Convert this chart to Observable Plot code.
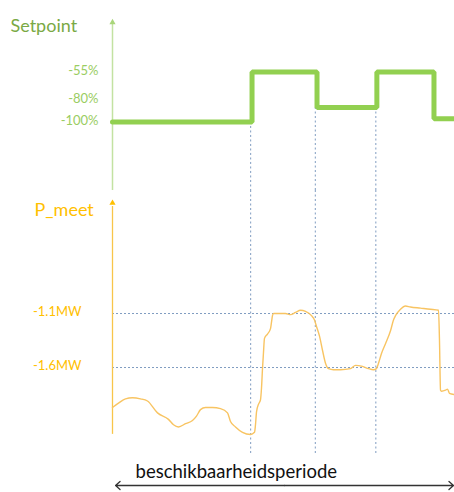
<!DOCTYPE html>
<html><head><meta charset="utf-8">
<script src="https://cdn.jsdelivr.net/npm/d3@7"></script>
<script src="https://cdn.jsdelivr.net/npm/@observablehq/plot@0.6"></script>
<style>
html,body{margin:0;padding:0;background:#fff;}
#chart{width:454px;height:492px;overflow:hidden;}
#chart svg{display:block;}
</style></head><body><div id="chart"></div>
<script>
// time in arbitrary units (0–100)
const stepTimes = [0, 40.8, 59.8, 77.3, 94.0, 100];
const setpointLevels = [-100, -55, -87, -55, -97, -97]; // %
const setpointTicks = [-55, -80, -100];
const switchTimes = [40.4, 59.3, 77.0];
const switchLow = [-100, -87, -87];

const pTimes = [0, 1.75, 3.8, 5.85, 8.19, 10.23, 13.16, 16.37, 17.84, 19.3, 21.35, 23.39, 24.56, 25.73, 27.19, 29.24, 31.58, 33.63, 34.5, 35.96, 38.01, 40.35, 41.52, 41.81, 42.11, 42.69, 43.27, 43.57, 43.86, 44.15, 44.44, 45.32, 46.2, 46.49, 46.78, 47.08, 50.58, 52.05, 53.51, 54.97, 56.43, 58.19, 59.06, 59.65, 60.53, 61.4, 62.28, 63.16, 64.62, 66.67, 69.59, 71.05, 73.1, 74.85, 76.32, 77.19, 77.78, 78.65, 79.82, 81.29, 82.16, 82.75, 84.21, 85.67, 87.13, 90.06, 92.98, 95.32, 95.61, 95.91, 96.2, 97.37, 97.95, 98.54, 100];
const pValues = [-1.97, -1.93, -1.89, -1.88, -1.89, -1.91, -2.02, -2.08, -2.13, -2.15, -2.12, -2.09, -2.05, -1.99, -1.97, -1.97, -1.98, -2.02, -2.10, -2.15, -2.20, -2.22, -2.20, -2.13, -2.01, -1.94, -1.90, -1.79, -1.61, -1.46, -1.33, -1.29, -1.24, -1.18, -1.12, -1.10, -1.10, -1.11, -1.09, -1.07, -1.08, -1.12, -1.16, -1.22, -1.31, -1.44, -1.56, -1.61, -1.62, -1.62, -1.61, -1.58, -1.59, -1.61, -1.62, -1.61, -1.56, -1.47, -1.38, -1.26, -1.16, -1.12, -1.06, -1.03, -1.04, -1.05, -1.06, -1.07, -1.35, -1.81, -1.82, -1.81, -1.80, -1.84, -1.85];
const pTicks = [-1.1, -1.6];
const period = [0.9, 99.7];
const periodLabel = "beschikbaarheidsperiode";

const setpoint = stepTimes.map((t, i) => ({t, level: setpointLevels[i]}));
const switches = switchTimes.map((t, i) => ({t, low: switchLow[i]}));
const pmeet = pTimes.map((t, i) => ({t, v: pValues[i]}));
const periodMid = (period[0] + period[1]) / 2;
const periodArrows = [{from: periodMid, to: period[0]}, {from: periodMid, to: period[1]}];

const font = "Lato, 'Open Sans', sans-serif";
const base = {width: 454, marginLeft: 112, marginRight: 0, marginTop: 0,
  x: {domain: [0, 100], axis: null},
  style: {fontFamily: font, background: "transparent", overflow: "visible"}};
const dotted = "#7f9cc0";

const yA = [-161.7, 9.35];
const A = Plot.plot({...base, height: 190, marginBottom: 0,
  y: {domain: yA, axis: null},
  marks: [
    Plot.ruleX(switches, {x: "t", y1: "low", y2: yA[0], stroke: dotted, strokeDasharray: "2,2.5", strokeWidth: 1}),
    Plot.ruleX([0], {y1: yA[0], y2: -12, stroke: "#c3e2a2", strokeWidth: 1.5}),
    Plot.dot([0], {x: d => d, y: -10.4, symbol: "triangle", r: 2.3, fill: "#a9d67a", stroke: null}),
    Plot.line(setpoint, {x: "t", y: "level", curve: "step-after", stroke: "#92D050", strokeWidth: 5, strokeLinejoin: "miter"}),
    Plot.text(setpointTicks, {y: d => d, text: d => `${d}%`, frameAnchor: "left", textAnchor: "end", dx: -14, dy: -1, fill: "#9acd62", fontSize: 13}),
    Plot.text(["Setpoint"], {frameAnchor: "top-left", text: d => d, textAnchor: "start", dx: -102, dy: 19, fill: "#7aa944", fontSize: 18})
  ]
});

const yB = [-2.396, 0.0389];
const B = Plot.plot({...base, height: 263, marginBottom: 0,
  y: {domain: yB, axis: null},
  marks: [
    Plot.ruleY(pTicks, {stroke: dotted, strokeDasharray: "2,2", strokeWidth: 1}),
    Plot.ruleX(switchTimes, {stroke: dotted, strokeDasharray: "2,2.5", strokeWidth: 1}),
    Plot.ruleX([0], {y1: -2.219, y2: -0.109, stroke: "#f8c54a", strokeWidth: 1.3}),
    Plot.dot([0], {x: d => d, y: -0.077, symbol: "triangle", r: 2.3, fill: "#FFC000", stroke: null}),
    Plot.line(pmeet, {x: "t", y: "v", curve: "monotone-x", stroke: "#f8c462", strokeWidth: 1.4}),
    Plot.text(pTicks, {y: d => d, text: d => `${d}MW`, frameAnchor: "left", textAnchor: "end", dx: -31, dy: -1.5, fill: "#FFC000", fontSize: 13}),
    Plot.text(["P_meet"], {frameAnchor: "top-left", text: d => d, textAnchor: "start", dx: -78, dy: 12.5, fill: "#FFC000", fontSize: 18})
  ]
});

const C = Plot.plot({...base, height: 39, marginBottom: 7,
  y: {domain: [0, 1], axis: null},
  marks: [
    Plot.arrow(periodArrows, {x1: "from", x2: "to", y1: 0, y2: 0, stroke: "#333", strokeWidth: 1.3, headLength: 7, headAngle: 85}),
    Plot.text([periodLabel], {x: period[0], y: 0, text: d => d, textAnchor: "start", dx: 20, dy: -13, fill: "#111", fontSize: 18.5})
  ]
});

const el = document.getElementById("chart");
el.append(A, B, C);
</script></body></html>
